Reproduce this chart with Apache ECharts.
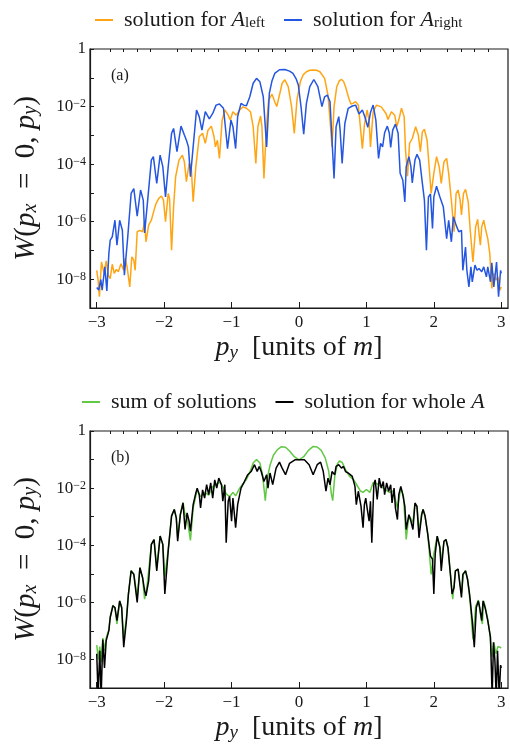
<!DOCTYPE html>
<html>
<head>
<meta charset="utf-8">
<script src="https://cdn.jsdelivr.net/npm/echarts@6/dist/echarts.min.js"></script>
<style>
  html, body { margin: 0; padding: 0; background: #ffffff; }
  #chart { width: 510px; height: 752px; }
</style>
</head>
<body>
<div id="chart"></div>
<script>
// Wigner function W(p_x = 0, p_y) along p_y (units of m).
// Each entry: [p_y, log10 W].

// panel (a): solution for A_left
const leftSol = [
  [-3.00,-7.69],[-2.98,-8.03],[-2.96,-8.61],[-2.93,-7.40],[-2.89,-7.80],[-2.86,-7.36],[-2.83,-7.86],[-2.80,-7.98],
  [-2.77,-7.48],[-2.74,-7.80],[-2.71,-7.66],[-2.68,-7.74],[-2.64,-7.46],[-2.60,-7.69],[-2.58,-7.28],[-2.55,-7.57],
  [-2.51,-8.27],[-2.48,-7.22],[-2.45,-7.34],[-2.43,-7.69],[-2.40,-6.35],[-2.36,-6.30],[-2.32,-6.35],[-2.29,-6.00],
  [-2.27,-6.70],[-2.23,-6.12],[-2.19,-5.95],[-2.15,-5.60],[-2.12,-5.37],[-2.08,-5.19],[-2.04,-5.11],[-2.01,-5.25],
  [-1.98,-6.00],[-1.94,-5.02],[-1.92,-5.19],[-1.89,-6.99],[-1.86,-5.48],[-1.83,-4.44],[-1.78,-3.86],[-1.73,-3.69],
  [-1.70,-3.92],[-1.67,-4.61],[-1.63,-3.98],[-1.60,-4.03],[-1.57,-5.31],[-1.53,-4.09],[-1.48,-3.05],[-1.43,-2.93],
  [-1.39,-3.28],[-1.35,-2.82],[-1.30,-2.68],[-1.26,-3.05],[-1.24,-3.40],[-1.21,-3.17],[-1.18,-3.80],[-1.14,-2.47],
  [-1.10,-2.12],[-1.05,-2.30],[-1.02,-2.47],[-0.98,-2.18],[-0.93,-2.30],[-0.88,-2.12],[-0.83,-2.01],[-0.78,-2.06],
  [-0.72,-2.18],[-0.68,-2.70],[-0.64,-3.98],[-0.61,-2.70],[-0.57,-2.33],[-0.55,-2.70],[-0.52,-4.50],[-0.48,-2.59],
  [-0.45,-1.77],[-0.40,-1.57],[-0.36,-1.83],[-0.33,-2.00],[-0.29,-1.60],[-0.25,-1.19],[-0.21,-1.07],[-0.16,-1.31],
  [-0.11,-2.00],[-0.07,-2.93],[-0.03,-1.77],[0.02,-1.14],[0.06,-0.90],[0.11,-0.79],[0.16,-0.74],[0.21,-0.73],
  [0.26,-0.74],[0.31,-0.79],[0.38,-1.02],[0.43,-1.60],[0.46,-2.47],[0.49,-3.40],[0.52,-2.00],[0.56,-1.31],
  [0.60,-1.10],[0.63,-1.06],[0.66,-1.12],[0.69,-1.31],[0.74,-1.72],[0.77,-1.91],[0.80,-1.89],[0.84,-1.83],
  [0.88,-1.95],[0.91,-2.70],[0.94,-3.46],[0.97,-2.64],[1.01,-2.12],[1.04,-2.50],[1.06,-3.40],[1.10,-2.18],
  [1.15,-1.95],[1.22,-2.01],[1.29,-2.24],[1.32,-2.45],[1.37,-2.18],[1.42,-2.30],[1.45,-2.70],[1.48,-2.47],
  [1.52,-2.06],[1.56,-2.35],[1.58,-3.51],[1.61,-4.42],[1.64,-3.28],[1.68,-3.11],[1.73,-2.70],[1.77,-2.99],
  [1.80,-3.57],[1.83,-2.88],[1.86,-2.79],[1.90,-3.17],[1.93,-4.09],[1.96,-5.02],[2.00,-4.32],[2.04,-3.74],
  [2.08,-4.09],[2.11,-4.67],[2.15,-3.92],[2.19,-3.80],[2.22,-4.32],[2.26,-5.25],[2.30,-6.35],[2.33,-5.02],
  [2.36,-4.90],[2.39,-5.25],[2.41,-5.77],[2.44,-5.02],[2.47,-4.88],[2.51,-5.31],[2.54,-6.30],[2.58,-7.40],
  [2.62,-6.18],[2.65,-5.92],[2.67,-6.41],[2.69,-6.82],[2.71,-6.18],[2.74,-5.95],[2.77,-6.30],[2.80,-6.59],
  [2.83,-7.11],[2.86,-8.32],[2.89,-7.80],[2.92,-8.03],[2.95,-7.92],[2.98,-8.38],[3.00,-8.27]
];

// panel (a): solution for A_right
const rightSol = [
  [-3.00,-8.29],[-2.97,-8.38],[-2.94,-8.01],[-2.92,-8.38],[-2.88,-7.57],[-2.85,-8.41],[-2.82,-7.10],[-2.80,-6.64],
  [-2.77,-6.53],[-2.73,-5.95],[-2.70,-6.82],[-2.66,-5.95],[-2.62,-6.30],[-2.59,-7.86],[-2.54,-6.53],[-2.49,-5.02],
  [-2.45,-4.85],[-2.40,-5.81],[-2.35,-4.90],[-2.31,-5.25],[-2.29,-6.39],[-2.24,-5.14],[-2.19,-3.86],[-2.16,-3.74],
  [-2.11,-4.67],[-2.06,-3.69],[-2.02,-4.09],[-1.98,-5.14],[-1.94,-4.09],[-1.89,-2.93],[-1.86,-2.76],[-1.81,-3.57],
  [-1.75,-2.68],[-1.70,-2.99],[-1.67,-3.17],[-1.64,-3.40],[-1.61,-4.44],[-1.57,-3.40],[-1.52,-2.12],[-1.48,-2.35],
  [-1.44,-2.82],[-1.39,-2.18],[-1.33,-2.43],[-1.28,-2.24],[-1.23,-1.95],[-1.18,-1.91],[-1.12,-2.06],[-1.06,-3.46],
  [-1.01,-2.47],[-0.98,-2.70],[-0.94,-3.46],[-0.91,-2.35],[-0.86,-1.89],[-0.82,-1.95],[-0.78,-1.97],[-0.73,-1.66],
  [-0.68,-1.19],[-0.63,-1.02],[-0.58,-1.14],[-0.53,-1.66],[-0.48,-3.40],[-0.44,-1.54],[-0.40,-1.10],[-0.36,-0.85],
  [-0.29,-0.72],[-0.21,-0.71],[-0.14,-0.77],[-0.09,-0.85],[-0.04,-1.05],[-0.01,-1.25],[0.03,-2.00],[0.07,-2.96],
  [0.11,-1.89],[0.16,-1.31],[0.22,-1.06],[0.28,-1.31],[0.34,-2.00],[0.38,-1.66],[0.42,-1.60],[0.46,-1.83],
  [0.49,-3.17],[0.52,-4.50],[0.55,-2.70],[0.59,-2.35],[0.61,-2.82],[0.64,-3.98],[0.68,-2.59],[0.73,-2.06],
  [0.79,-1.98],[0.84,-1.95],[0.89,-2.26],[0.94,-2.12],[0.98,-2.38],[1.02,-2.72],[1.06,-2.21],[1.10,-1.95],
  [1.14,-2.47],[1.18,-3.80],[1.21,-3.28],[1.24,-3.40],[1.27,-2.91],[1.31,-2.68],[1.34,-2.93],[1.36,-3.42],
  [1.39,-2.82],[1.43,-2.61],[1.47,-2.93],[1.50,-4.32],[1.54,-4.56],[1.57,-5.31],[1.59,-4.09],[1.63,-3.74],
  [1.66,-4.09],[1.68,-4.65],[1.72,-3.86],[1.75,-3.66],[1.79,-3.86],[1.83,-4.67],[1.86,-5.25],[1.89,-6.99],
  [1.92,-5.14],[1.95,-5.04],[1.98,-6.24],[2.00,-5.14],[2.04,-4.77],[2.09,-5.14],[2.14,-5.48],[2.19,-6.59],
  [2.22,-5.95],[2.26,-6.70],[2.29,-5.83],[2.33,-6.12],[2.37,-6.35],[2.41,-6.30],[2.43,-7.69],[2.47,-6.88],
  [2.49,-7.69],[2.52,-8.27],[2.55,-7.57],[2.57,-8.09],[2.61,-7.51],[2.64,-7.69],[2.67,-7.63],[2.71,-7.74],
  [2.74,-7.57],[2.78,-7.92],[2.80,-7.57],[2.84,-8.09],[2.86,-7.43],[2.89,-8.27],[2.93,-7.40],[2.96,-8.61],
  [2.99,-7.69],[3.00,-7.80]
];

// panel (b): sum of solutions
const sumSol = [
  [-3.00,-7.50],[-2.975,-8.00],[-2.955,-7.55],[-2.935,-8.10],[-2.91,-7.25],[-2.885,-7.70],[-2.86,-7.25],[-2.82,-6.95],
  [-2.80,-6.50],[-2.76,-6.10],[-2.73,-6.20],[-2.70,-6.76],[-2.66,-5.95],[-2.63,-6.20],[-2.60,-7.30],[-2.56,-6.55],
  [-2.53,-5.70],[-2.49,-4.88],[-2.45,-5.00],[-2.40,-5.85],[-2.36,-4.78],[-2.32,-5.15],[-2.29,-5.89],[-2.25,-5.35],
  [-2.19,-3.97],[-2.15,-3.80],[-2.11,-4.80],[-2.06,-3.68],[-2.02,-3.97],[-1.99,-5.10],[-1.94,-4.15],[-1.89,-2.95],
  [-1.85,-2.74],[-1.82,-3.04],[-1.80,-3.75],[-1.76,-2.92],[-1.72,-2.50],[-1.69,-2.95],[-1.66,-3.05],[-1.61,-3.83],
  [-1.57,-2.70],[-1.51,-2.05],[-1.46,-2.30],[-1.40,-2.15],[-1.34,-2.25],[-1.28,-1.95],[-1.22,-1.85],[-1.17,-1.80],
  [-1.12,-2.00],[-1.08,-2.20],[-1.03,-2.30],[-0.98,-2.15],[-0.94,-2.27],[-0.88,-2.00],[-0.83,-1.85],[-0.78,-1.70],
  [-0.73,-1.45],[-0.68,-1.12],[-0.63,-1.00],[-0.58,-1.12],[-0.54,-1.55],[-0.50,-2.44],[-0.47,-1.65],[-0.43,-1.20],
  [-0.38,-0.85],[-0.32,-0.65],[-0.26,-0.55],[-0.20,-0.57],[-0.14,-0.70],[-0.07,-0.90],[0.00,-1.01],[0.07,-0.90],
  [0.14,-0.68],[0.21,-0.54],[0.27,-0.56],[0.33,-0.68],[0.39,-0.95],[0.44,-1.40],[0.48,-2.20],[0.50,-2.44],
  [0.53,-1.60],[0.57,-1.15],[0.60,-1.05],[0.64,-1.10],[0.69,-1.35],[0.75,-1.59],[0.81,-1.70],[0.86,-1.90],
  [0.91,-2.10],[0.95,-2.15],[1.00,-2.05],[1.05,-2.15],[1.10,-1.80],[1.16,-1.85],[1.22,-1.95],[1.28,-2.05],
  [1.34,-2.15],[1.40,-2.10],[1.46,-2.70],[1.51,-2.00],[1.55,-2.30],[1.59,-3.80],[1.63,-2.95],[1.69,-3.20],
  [1.72,-2.55],[1.75,-2.65],[1.78,-3.50],[1.82,-2.90],[1.84,-2.74],[1.87,-2.98],[1.91,-3.60],[1.96,-5.02],
  [2.00,-4.30],[2.05,-3.68],[2.09,-4.05],[2.11,-4.60],[2.15,-3.86],[2.18,-3.80],[2.21,-4.10],[2.25,-5.10],
  [2.28,-5.89],[2.32,-4.90],[2.36,-4.84],[2.38,-5.20],[2.41,-5.70],[2.44,-5.00],[2.47,-4.88],[2.50,-5.20],
  [2.54,-6.00],[2.58,-7.30],[2.62,-6.15],[2.66,-5.92],[2.69,-6.40],[2.72,-6.76],[2.74,-5.95],[2.77,-6.25],
  [2.80,-6.60],[2.83,-7.10],[2.86,-7.90],[2.89,-7.40],[2.92,-7.80],[2.95,-7.55],[2.98,-7.57],[3.00,-7.60]
];

// panel (b): solution for whole A
const wholeSol = [
  [-3.00,-7.80],[-2.98,-9.30],[-2.955,-7.70],[-2.935,-9.30],[-2.91,-7.30],[-2.885,-8.30],[-2.86,-7.34],[-2.82,-6.99],
  [-2.80,-6.53],[-2.76,-6.12],[-2.73,-6.18],[-2.70,-6.64],[-2.66,-5.95],[-2.63,-6.18],[-2.60,-7.57],[-2.56,-6.64],
  [-2.53,-5.71],[-2.49,-4.90],[-2.45,-5.02],[-2.40,-6.00],[-2.36,-4.79],[-2.32,-5.13],[-2.29,-5.60],[-2.27,-5.77],
  [-2.23,-5.25],[-2.19,-3.97],[-2.15,-3.80],[-2.11,-4.90],[-2.06,-3.68],[-2.02,-3.97],[-1.99,-5.71],[-1.94,-4.20],
  [-1.89,-2.98],[-1.85,-2.75],[-1.82,-3.04],[-1.80,-3.86],[-1.76,-2.93],[-1.72,-2.52],[-1.69,-3.45],[-1.66,-2.87],
  [-1.63,-3.16],[-1.61,-3.51],[-1.57,-2.58],[-1.53,-2.17],[-1.51,-2.00],[-1.48,-2.23],[-1.46,-2.69],[-1.43,-2.06],
  [-1.40,-2.35],[-1.37,-1.88],[-1.34,-2.23],[-1.31,-1.82],[-1.28,-2.35],[-1.25,-1.71],[-1.22,-2.00],[-1.19,-1.65],
  [-1.15,-1.88],[-1.13,-2.46],[-1.10,-1.88],[-1.08,-3.91],[-1.05,-2.46],[-1.03,-2.29],[-1.00,-3.16],[-0.98,-2.35],
  [-0.94,-3.39],[-0.91,-2.58],[-0.86,-2.00],[-0.81,-1.77],[-0.76,-1.53],[-0.71,-1.42],[-0.66,-1.18],[-0.62,-1.42],
  [-0.59,-1.24],[-0.56,-1.42],[-0.52,-1.77],[-0.48,-1.53],[-0.46,-2.00],[-0.43,-1.47],[-0.39,-1.88],[-0.34,-1.30],
  [-0.29,-1.09],[-0.25,-1.30],[-0.20,-1.53],[-0.14,-1.13],[-0.06,-1.01],[0.01,-1.01],[0.08,-1.01],[0.15,-1.18],
  [0.21,-1.53],[0.27,-1.18],[0.32,-1.09],[0.36,-1.42],[0.40,-2.11],[0.43,-1.65],[0.46,-1.88],[0.49,-1.42],
  [0.53,-1.53],[0.55,-1.24],[0.59,-1.18],[0.63,-1.30],[0.66,-1.24],[0.69,-1.42],[0.73,-1.47],[0.76,-1.53],
  [0.79,-1.59],[0.83,-1.94],[0.85,-2.58],[0.88,-2.11],[0.90,-2.06],[0.92,-2.64],[0.95,-3.39],[0.97,-2.58],
  [0.99,-2.35],[1.01,-2.69],[1.04,-3.16],[1.06,-2.46],[1.08,-3.91],[1.11,-1.88],[1.13,-1.71],[1.16,-2.40],
  [1.19,-1.65],[1.22,-2.00],[1.25,-1.77],[1.27,-2.23],[1.30,-1.82],[1.33,-2.11],[1.36,-1.88],[1.38,-2.52],
  [1.41,-2.00],[1.43,-2.69],[1.46,-3.10],[1.48,-2.23],[1.51,-1.94],[1.54,-2.23],[1.57,-2.64],[1.59,-3.45],
  [1.63,-2.93],[1.66,-3.16],[1.69,-3.45],[1.72,-2.52],[1.75,-2.64],[1.78,-3.74],[1.82,-2.93],[1.84,-2.75],
  [1.87,-2.98],[1.91,-3.62],[1.95,-4.38],[1.98,-4.49],[2.00,-5.71],[2.02,-4.32],[2.05,-3.68],[2.09,-4.09],
  [2.11,-4.90],[2.15,-3.86],[2.18,-3.80],[2.21,-4.09],[2.25,-5.13],[2.27,-5.71],[2.30,-5.48],[2.32,-4.90],
  [2.36,-4.84],[2.38,-5.25],[2.41,-5.83],[2.43,-5.02],[2.47,-4.90],[2.50,-5.19],[2.53,-5.71],[2.57,-6.64],
  [2.60,-7.57],[2.63,-6.18],[2.66,-5.95],[2.68,-6.18],[2.71,-6.64],[2.73,-5.95],[2.76,-6.18],[2.80,-6.64],
  [2.84,-7.22],[2.865,-9.30],[2.885,-7.40],[2.905,-8.00],[2.925,-9.30],[2.945,-7.70],[2.97,-9.30],[2.99,-8.20],
  [3.00,-8.30]
];

// axis ticks
const pyMajorTicks = [-3, -2, -1, 0, 1, 2, 3];
const pyMinorTicks = [-2.8,-2.6,-2.4,-2.2,-1.8,-1.6,-1.4,-1.2,-0.8,-0.6,-0.4,-0.2,
                      0.2,0.4,0.6,0.8,1.2,1.4,1.6,1.8,2.2,2.4,2.6,2.8];

const SERIF = '"Liberation Serif", "DejaVu Serif", serif';
const INK = '#1a1a1a';

const toW = rows => rows.map(([p, lg]) => [p, Math.pow(10, lg)]);

function richSized(base) {
  const small = Math.round(base * 0.68);
  return {
    r:    { fontFamily: SERIF, fontSize: base, color: INK },
    i:    { fontFamily: SERIF, fontStyle: 'italic', fontSize: base, color: INK },
    sub:  { fontFamily: SERIF, fontSize: small, color: INK, verticalAlign: 'bottom', lineHeight: Math.round(base * 0.5) },
    isub: { fontFamily: SERIF, fontStyle: 'italic', fontSize: small, color: INK, verticalAlign: 'bottom', lineHeight: Math.round(base * 0.5) },
    sup:  { fontFamily: SERIF, fontSize: small, color: INK, verticalAlign: 'top', lineHeight: Math.round(base * 0.45) }
  };
}

const grids = [
  { left: 90, top: 49, width: 418, height: 259 },
  { left: 90, top: 431, width: 418, height: 257 }
];

function pyAxes(gridIndex) {
  return [
    {
      type: 'value', gridIndex, min: -3.1, max: 3.1,
      axisLine: { show: true, onZero: false, lineStyle: { color: INK, width: 1.2 } },
      axisTick: { show: true, inside: true, length: 6, customValues: pyMajorTicks, lineStyle: { color: INK, width: 1 } },
      axisLabel: {
        show: true, customValues: pyMajorTicks, margin: 6,
        fontFamily: SERIF, fontSize: 17, color: INK,
        formatter: v => (v < 0 ? '\u2212' + (-v) : String(v))
      },
      splitLine: { show: false },
      name: '{i|p}{isub|y}{r|\u2002[units of }{i|m}{r|]}',
      nameLocation: 'middle', nameGap: 26,
      nameTextStyle: { fontFamily: SERIF, fontSize: 28, color: INK, rich: richSized(28) }
    },
    {
      type: 'value', gridIndex, min: -3.1, max: 3.1,
      axisLine: { show: false, onZero: false },
      axisTick: { show: true, inside: true, length: 3, customValues: pyMinorTicks, lineStyle: { color: INK, width: 1 } },
      axisLabel: { show: false },
      splitLine: { show: false }
    }
  ];
}

function wAxis(gridIndex) {
  return {
    type: 'log', logBase: 10, gridIndex, min: 1e-9, max: 1, splitNumber: 9,
    axisLine: { show: true, onZero: false, lineStyle: { color: INK, width: 1.2 } },
    axisTick: { show: true, inside: true, length: 4, lineStyle: { color: INK, width: 1 } },
    axisLabel: {
      fontFamily: SERIF, fontSize: 17, color: INK, margin: 4,
      rich: richSized(17),
      formatter: v => {
        const e = Math.round(Math.log10(v));
        if (e === 0) return '{r|1}';
        if (e % 2 !== 0) return '';
        return '{r|10}{sup|\u2212' + (-e) + '}';
      }
    },
    splitLine: { show: false },
    minorTick: { show: false },
    name: '{i|W}{r|(}{i|p}{isub|x}{r|\u2002=\u20020, }{i|p}{isub|y}{r|)}',
    nameLocation: 'middle', nameGap: 49, nameRotate: 90,
    nameTextStyle: { fontFamily: SERIF, fontSize: 29, color: INK, rich: richSized(29) }
  };
}

const legendLabels = {
  'solution for A_left':  '{r|solution for }{i|A}{sub|left}',
  'solution for A_right': '{r|solution for }{i|A}{sub|right}',
  'sum of solutions':     '{r|sum of solutions}',
  'solution for whole A': '{r|solution for whole }{i|A}'
};
function legendAt(left, top, names) {
  return {
    left, top, orient: 'horizontal', data: names,
    icon: 'rect', itemWidth: 18, itemHeight: 2, itemGap: 19,
    textStyle: { fontFamily: SERIF, fontSize: 22, color: INK, padding: [0, 0, 0, 6], rich: richSized(22) },
    formatter: n => legendLabels[n]
  };
}

const lineSeries = (name, rows, xi, yi, color, z) => ({
  name, type: 'line', data: toW(rows), xAxisIndex: xi, yAxisIndex: yi,
  showSymbol: false, symbol: 'none', clip: true, z,
  lineStyle: { color, width: 1.5 }, itemStyle: { color },
  emphasis: { disabled: true }, animation: false
});

const option = {
  backgroundColor: '#ffffff',
  animation: false,
  title: [
    { text: '(a)', left: 106, top: 63, textStyle: { fontFamily: SERIF, fontSize: 16, fontWeight: 'normal', color: INK } },
    { text: '(b)', left: 106, top: 445, textStyle: { fontFamily: SERIF, fontSize: 16, fontWeight: 'normal', color: INK } }
  ],
  legend: [
    legendAt(90, 4, ['solution for A_left', 'solution for A_right']),
    legendAt(77, 386, ['sum of solutions', 'solution for whole A'])
  ],
  grid: grids.map(g => Object.assign({ show: true, borderColor: INK, borderWidth: 1.2, backgroundColor: 'transparent' }, g)),
  xAxis: [...pyAxes(0), ...pyAxes(1)],
  yAxis: [wAxis(0), wAxis(1)],
  series: [
    lineSeries('solution for A_left',  leftSol,  0, 0, '#ffa514', 2),
    lineSeries('solution for A_right', rightSol, 0, 0, '#2456e0', 3),
    lineSeries('sum of solutions',     sumSol,   2, 1, '#62c845', 2),
    lineSeries('solution for whole A', wholeSol, 2, 1, '#000000', 3)
  ]
};

const chart = echarts.init(document.getElementById('chart'), null, { renderer: 'canvas' });
chart.setOption(option);
</script>
</body>
</html>
